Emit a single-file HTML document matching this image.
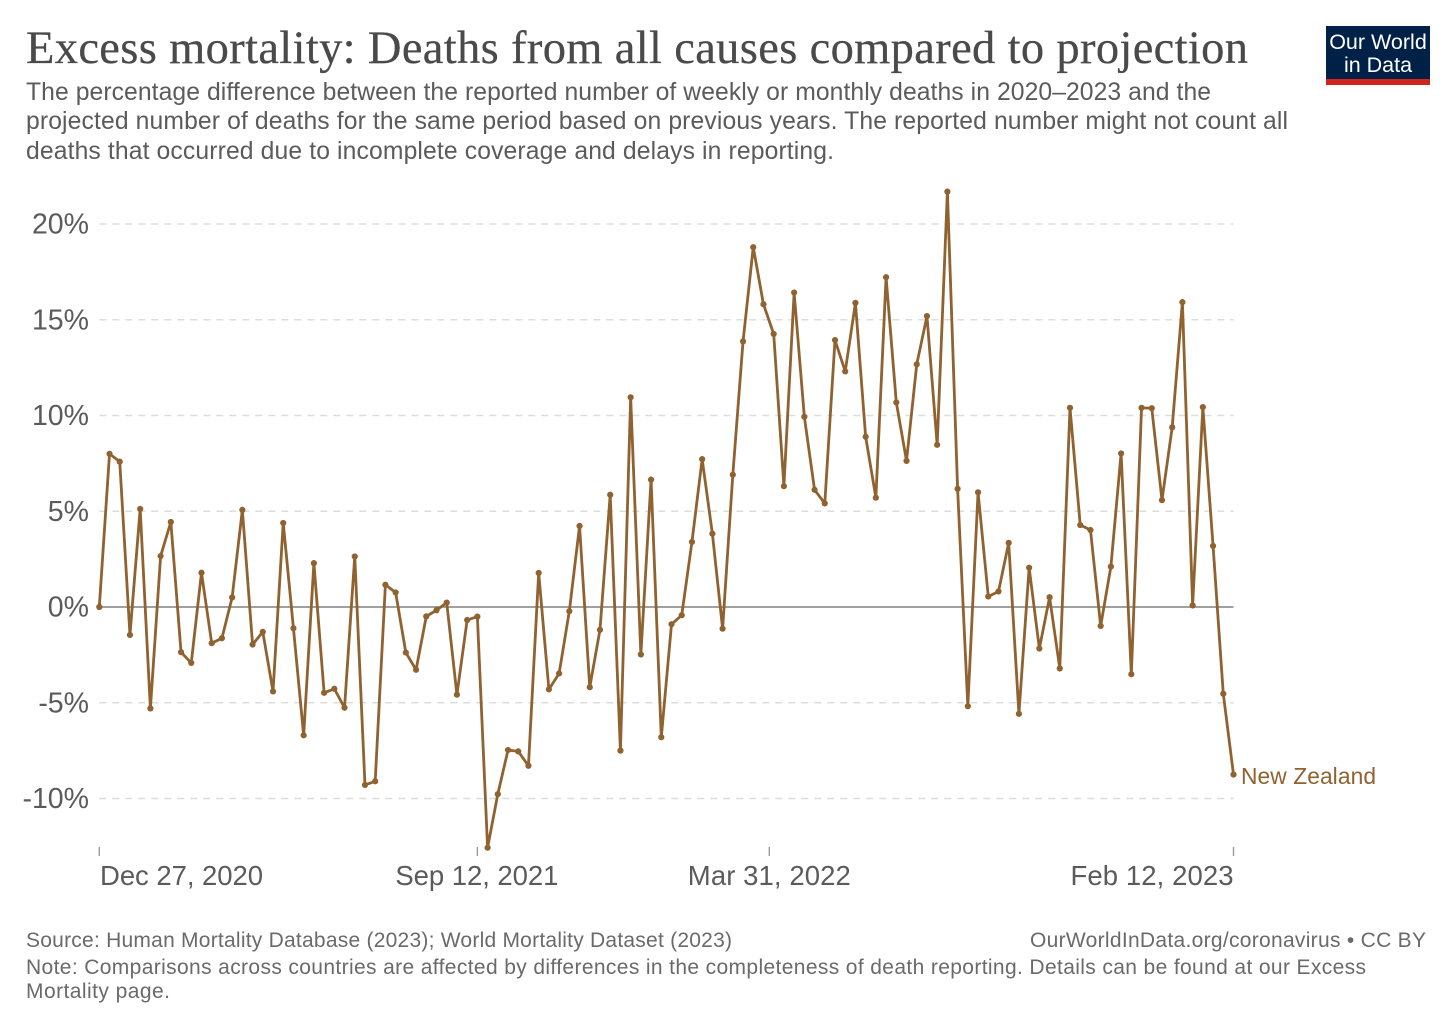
<!DOCTYPE html>
<html lang="en">
<head>
<meta charset="utf-8">
<title>Excess mortality: Deaths from all causes compared to projection</title>
<style>
html,body{margin:0;padding:0;background:#fff;width:1456px;height:1028px;overflow:hidden}
svg{display:block}
text{font-family:"Liberation Sans",Arial,sans-serif}
.title{font-family:"Liberation Serif",serif;font-size:46.5px;fill:#4a4a4a;stroke:#4a4a4a;stroke-width:0.25}
.sub{font-size:24.7px;fill:#5b5b5b}
.foot{font-size:21px;fill:#6a6a6a}
.tick{font-size:27.5px;fill:#5b5b5b}
.ytick{font-size:28.5px;fill:#5b5b5b}
</style>
</head>
<body>
<svg id="chart" width="1456" height="1028" viewBox="0 0 1456 1028" xmlns="http://www.w3.org/2000/svg">
  <rect width="1456" height="1028" fill="#ffffff"/>
  <text class="title" x="26" y="63" textLength="1222">Excess mortality: Deaths from all causes compared to projection</text>
  <g>
    <text class="sub" x="26" y="100" textLength="1185">The percentage difference between the reported number of weekly or monthly deaths in 2020–2023 and the</text>
    <text class="sub" x="26" y="129" textLength="1262">projected number of deaths for the same period based on previous years. The reported number might not count all</text>
    <text class="sub" x="26" y="159" textLength="808">deaths that occurred due to incomplete coverage and delays in reporting.</text>
  </g>
  <g>
    <rect x="1326" y="26" width="104" height="59" fill="#002147"/>
    <rect x="1326" y="79" width="104" height="6" fill="#ce261e"/>
    <text x="1378" y="49" text-anchor="middle" font-size="21.5" fill="#ffffff">Our World</text>
    <text x="1378" y="72" text-anchor="middle" font-size="21.5" fill="#ffffff">in Data</text>
  </g>
  <g id="grid"></g>
  <g id="yaxis"></g>
  <g id="xaxis"></g>
  <g id="series"></g>
  <g>
    <text class="foot" x="26" y="947" textLength="706">Source: Human Mortality Database (2023); World Mortality Dataset (2023)</text>
    <text class="foot" x="1030" y="947" textLength="396">OurWorldInData.org/coronavirus • CC BY</text>
    <text class="foot" x="26" y="974" textLength="1340">Note: Comparisons across countries are affected by differences in the completeness of death reporting. Details can be found at our Excess</text>
    <text class="foot" x="26" y="998" textLength="144">Mortality page.</text>
  </g>
</svg>
<script>
const seriesName = "New Zealand";
const firstDate = "2020-12-27";
const daysBetweenPoints = 7;
const values = [
  0, 8.0, 7.59, -1.46, 5.12, -5.3, 2.66, 4.44, -2.36, -2.92,
  1.79, -1.89, -1.63, 0.5, 5.07, -1.96, -1.3, -4.41, 4.39, -1.11,
  -6.7, 2.29, -4.48, -4.27, -5.26, 2.64, -9.29, -9.1, 1.16, 0.76,
  -2.38, -3.28, -0.49, -0.17, 0.23, -4.58, -0.68, -0.5, -12.57, -9.77,
  -7.47, -7.54, -8.29, 1.78, -4.3, -3.47, -0.22, 4.23, -4.19, -1.19,
  5.86, -7.5, 10.95, -2.48, 6.65, -6.8, -0.9, -0.43, 3.4, 7.72,
  3.83, -1.13, 6.91, 13.87, 18.79, 15.81, 14.26, 6.31, 16.42, 9.93,
  6.12, 5.41, 13.94, 12.3, 15.88, 8.89, 5.71, 17.22, 10.68, 7.63,
  12.67, 15.19, 8.47, 21.69, 6.17, -5.18, 5.99, 0.55, 0.81, 3.35,
  -5.58, 2.05, -2.17, 0.51, -3.21, 10.4, 4.28, 4.02, -0.99, 2.11,
  8.02, -3.51, 10.4, 10.38, 5.58, 9.38, 15.92, 0.08, 10.44, 3.19,
  -4.53, -8.75
];
const yTickValues = [-10, -5, 0, 5, 10, 15, 20];
const xTickDates = ["2020-12-27", "2021-09-12", "2022-03-31", "2023-02-12"];
const xTickLabels = ["Dec 27, 2020", "Sep 12, 2021", "Mar 31, 2022", "Feb 12, 2023"];

const NS = "http://www.w3.org/2000/svg";
const DAY = 86400000;
const plot = { left: 99.3, right: 1233.5, zeroY: 607, pxPerUnit: 19.15 };
const t0 = Date.parse(firstDate);
const dayOf = s => (Date.parse(s) - t0) / DAY;
const lastDay = (values.length - 1) * daysBetweenPoints;
const xScale = d => plot.left + (d / lastDay) * (plot.right - plot.left);
const yScale = v => plot.zeroY - v * plot.pxPerUnit;
const make = (parent, tag, attrs, txt) => {
  const el = document.createElementNS(NS, tag);
  for (const k in attrs) el.setAttribute(k, attrs[k]);
  if (txt !== undefined) el.textContent = txt;
  parent.appendChild(el);
  return el;
};

const grid = document.getElementById("grid");
const yaxis = document.getElementById("yaxis");
yTickValues.forEach(v => {
  const line = make(grid, "line", {
    x1: plot.left, x2: plot.right, y1: yScale(v), y2: yScale(v),
    stroke: v === 0 ? "#808080" : "#dddddd",
    "stroke-width": 1.4,
    "stroke-dasharray": v === 0 ? "none" : "7 6"
  });
  
  
  const label = make(yaxis, "text", { class: "ytick", x: 89, y: yScale(v) + 9.5, "text-anchor": "end" }, v + "%");
  
  
});

const xaxis = document.getElementById("xaxis");
xTickDates.forEach((d, i) => {
  const px = xScale(dayOf(d));
  const tick = make(xaxis, "line", { x1: px, x2: px, y1: 847, y2: 856, stroke: "#9a9a9a", "stroke-width": 1.4 });
  
  
  const anchor = i === 0 ? "start" : i === xTickDates.length - 1 ? "end" : "middle";
  const lx = i === 0 ? px + 0.7 : px - (i === 1 ? 0.5 : 0);
  const label = make(xaxis, "text", { class: "tick", x: lx, y: 885, "text-anchor": anchor, textLength: 163 }, xTickLabels[i]);
  
  
});

const series = document.getElementById("series");
const color = "#8f6230";
const pts = values.map((v, i) => xScale(i * daysBetweenPoints).toFixed(2) + "," + yScale(v).toFixed(2)).join(" ");
const line = make(series, "polyline", { points: pts, fill: "none", stroke: color, "stroke-width": 2.8, "stroke-linejoin": "round" });


values.forEach((v, i) => {
  const dot = make(series, "circle", { cx: xScale(i * daysBetweenPoints), cy: yScale(v), r: 3.1, fill: color });
  
  
});
const lastValue = values[values.length - 1];
const endLabel = make(series, "text", { x: 1241, y: yScale(lastValue) + 9.5, "font-size": 22.8, fill: color, textLength: 135 }, seriesName);


</script>
</body>
</html>
